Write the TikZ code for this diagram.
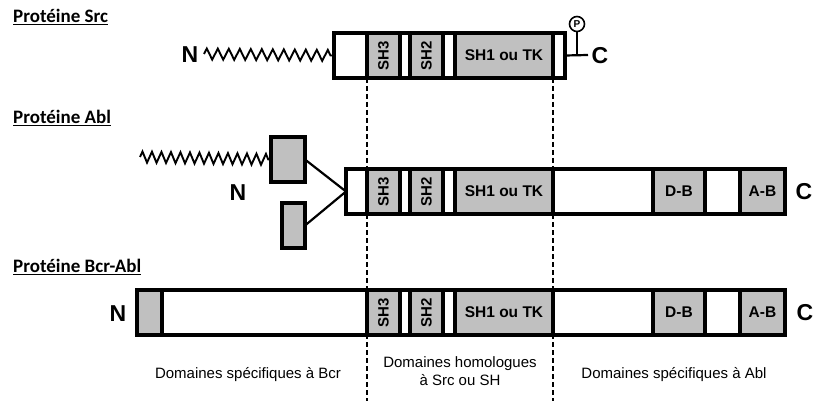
\documentclass[tikz,border=0pt]{standalone}
\usepackage{fontspec}
\setmainfont{Liberation Sans}
\newfontfamily\titlefont{Carlito}
\usetikzlibrary{decorations.pathmorphing}
\definecolor{boxgray}{RGB}{192,192,192}
\tikzset{
  seg/.style={draw, line width=3.2pt, anchor=north west, inner sep=0pt, outer sep=0pt, minimum height=45pt},
  gseg/.style={seg, fill=boxgray, font=\bfseries\fontsize{15.5}{15.5}\selectfont},
  wseg/.style={seg, fill=white},
  term/.style={font=\bfseries\fontsize{23}{23}\selectfont, inner sep=0pt},
  ttl/.style={anchor=west, inner sep=0pt, font=\titlefont\bfseries\fontsize{19}{19}\selectfont},
  dom/.style={font=\fontsize{15}{18}\selectfont, align=center, inner sep=0pt},
  zig/.style={line width=1.9pt, decorate, decoration={zigzag, amplitude=5.5pt, segment length=#1}},
  link/.style={line width=2.2pt},
  guide/.style={line width=1.8pt, dash pattern=on 5pt off 3pt},
}
\newcommand\vlabel[1]{\rotatebox{90}{\fontsize{15}{15}\selectfont #1}}
\newcommand\coredomains[2]{%
  \node[gseg, minimum width=33pt] (#1sh3) at (367,#2) {\vlabel{SH3}};
  \node[wseg, minimum width=10pt] (#1w1) at (400,#2) {};
  \node[gseg, minimum width=33pt] (#1sh2) at (410,#2) {\vlabel{SH2}};
  \node[wseg, minimum width=12pt] (#1w2) at (443,#2) {};
  \node[gseg, minimum width=98pt] (#1sh1) at (455,#2) {SH1 ou TK};
}
\newcommand\abldomains[2]{%
  \node[wseg, minimum width=100pt] (#1w3) at (553,#2) {};
  \node[gseg, minimum width=52pt] (#1db) at (653,#2) {D-B};
  \node[wseg, minimum width=35pt] (#1w4) at (705,#2) {};
  \node[gseg, minimum width=45pt] (#1ab) at (740,#2) {A-B};
}
\begin{document}
\begin{tikzpicture}[x=1pt, y=-1pt]
\useasboundingbox (0,0) rectangle (814,401);

% ---------- Src ----------
\node[ttl] (tsrc) at (13,17) {\underline{Protéine Src}};
\node[wseg, minimum width=33pt] (sw0) at (334,33) {};
\coredomains{s}{33}
\node[wseg, minimum width=12pt] (sw3) at (553,33) {};
\node[term] (sN) at (190,55) {N};
\coordinate (szs) at (204,54);
\draw[zig=11pt] (szs) -- (sw0.west);
\coordinate (sct) at (588,55);
\coordinate (sstem) at (577,55);
\draw[link] (sw3.east) -- (sct);
\node[draw, circle, line width=1.6pt, minimum size=15pt, inner sep=0pt, font=\bfseries\fontsize{10}{10}\selectfont] (sP) at (577,24) {P};
\draw[line width=1.8pt] (sP.south) -- (sstem);
\node[term] (sC) at (600,56) {C};

% ---------- Abl ----------
\node[ttl] (tabl) at (13,118) {\underline{Protéine Abl}};
\node[wseg, minimum width=21pt] (aw0) at (346,169) {};
\coredomains{a}{169}
\abldomains{a}{169}
\node[term] (aN) at (238,193) {N};
\node[term] (aC) at (804,192) {C};
\node[draw, fill=boxgray, line width=3.2pt, anchor=north west, minimum width=34pt, minimum height=45pt, inner sep=0pt, outer sep=0pt] (aub) at (271,137) {};
\node[draw, fill=boxgray, line width=3.2pt, anchor=north west, minimum width=23pt, minimum height=45pt, inner sep=0pt, outer sep=0pt] (alb) at (282,203) {};
\coordinate (azs) at (140,157);
\draw[zig=9.5pt] (azs) -- (aub.west);
\draw[link] (aub.east) -- (aw0.west);
\draw[link] (alb.east) -- (aw0.west);

% ---------- Bcr-Abl ----------
\node[ttl] (tbcr) at (13,267) {\underline{Protéine Bcr-Abl}};
\node[gseg, minimum width=25pt] (bg0) at (137,290) {};
\node[wseg, minimum width=205pt] (bw0) at (162,290) {};
\coredomains{b}{290}
\abldomains{b}{290}
\node[term] (bN) at (118,314) {N};
\node[term] (bC) at (805,313) {C};

% ---------- guides ----------
\coordinate (gl) at (367,401);
\coordinate (gr) at (553,401);
\draw[guide] (ssh3.south west) -- (gl);
\draw[guide] (sw3.south west) -- (gr);

\node[dom] (d1) at (248,375) {Domaines spécifiques à Bcr};
\node[dom] (d2) at (460,371) {Domaines homologues\\à Src ou SH};
\node[dom] (d3) at (674,375) {Domaines spécifiques à Abl};
\end{tikzpicture}
\end{document}
